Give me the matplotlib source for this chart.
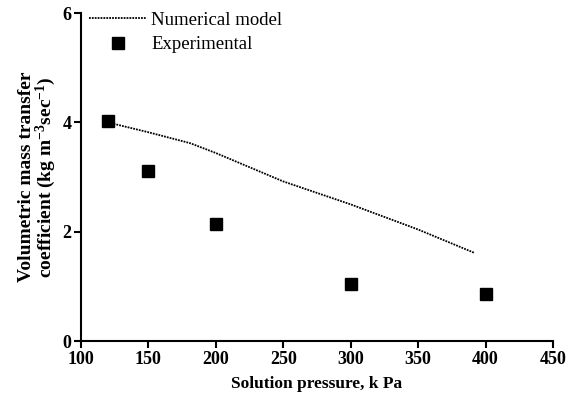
import matplotlib.pyplot as plt

plt.rcParams['font.family'] = ['Liberation Serif', 'DejaVu Serif']
plt.rcParams['mathtext.fontset'] = 'custom'
plt.rcParams['mathtext.rm'] = 'Liberation Serif:bold'
plt.rcParams['mathtext.default'] = 'rm'

# numerical model curve
model_p = [120, 150, 181, 200, 250, 300, 350, 392]
model_k = [4.00, 3.82, 3.62, 3.44, 2.92, 2.50, 2.04, 1.61]

# experimental points
exp_p = [120, 150, 200, 300, 400]
exp_k = [4.02, 3.11, 2.14, 1.04, 0.86]

fig = plt.figure(figsize=(5.72, 3.98), dpi=100)
ax = fig.add_axes([0.1416, 0.1432, 0.8252, 0.8238])

ax.plot(model_p, model_k, color='black', linestyle=(0, (1, 0.6)), linewidth=1.3,
        label='Numerical model')
ax.plot(exp_p, exp_k, linestyle='none', marker='s', markersize=8, color='black',
        label='Experimental')

ax.set_xlim(100, 450)
ax.set_ylim(0, 6)
ax.set_xticks(range(100, 451, 50))
ax.set_yticks([0, 2, 4, 6])
for s in ['top', 'right']:
    ax.spines[s].set_visible(False)
for s in ['left', 'bottom']:
    ax.spines[s].set_linewidth(1.5)
ax.tick_params(direction='out', length=5, width=1.5, labelsize=13, pad=2)
for lbl in ax.get_xticklabels() + ax.get_yticklabels():
    lbl.set_fontweight('bold')

ax.set_xlabel('Solution pressure, k Pa', fontsize=12.5, fontweight='bold', labelpad=6)
ax.set_ylabel('Volumetric mass transfer\ncoefficient (kg m$^{-3}$sec$^{-1}$)',
              fontsize=14, fontweight='bold', labelpad=3, linespacing=0.95)

ax.legend(loc='upper left', bbox_to_anchor=(-0.01, 1.045), frameon=False, fontsize=13.5,
          handlelength=3.0, handletextpad=0.3, labelspacing=0.4, borderaxespad=0.3)

fig.savefig('out.png', dpi=100)
